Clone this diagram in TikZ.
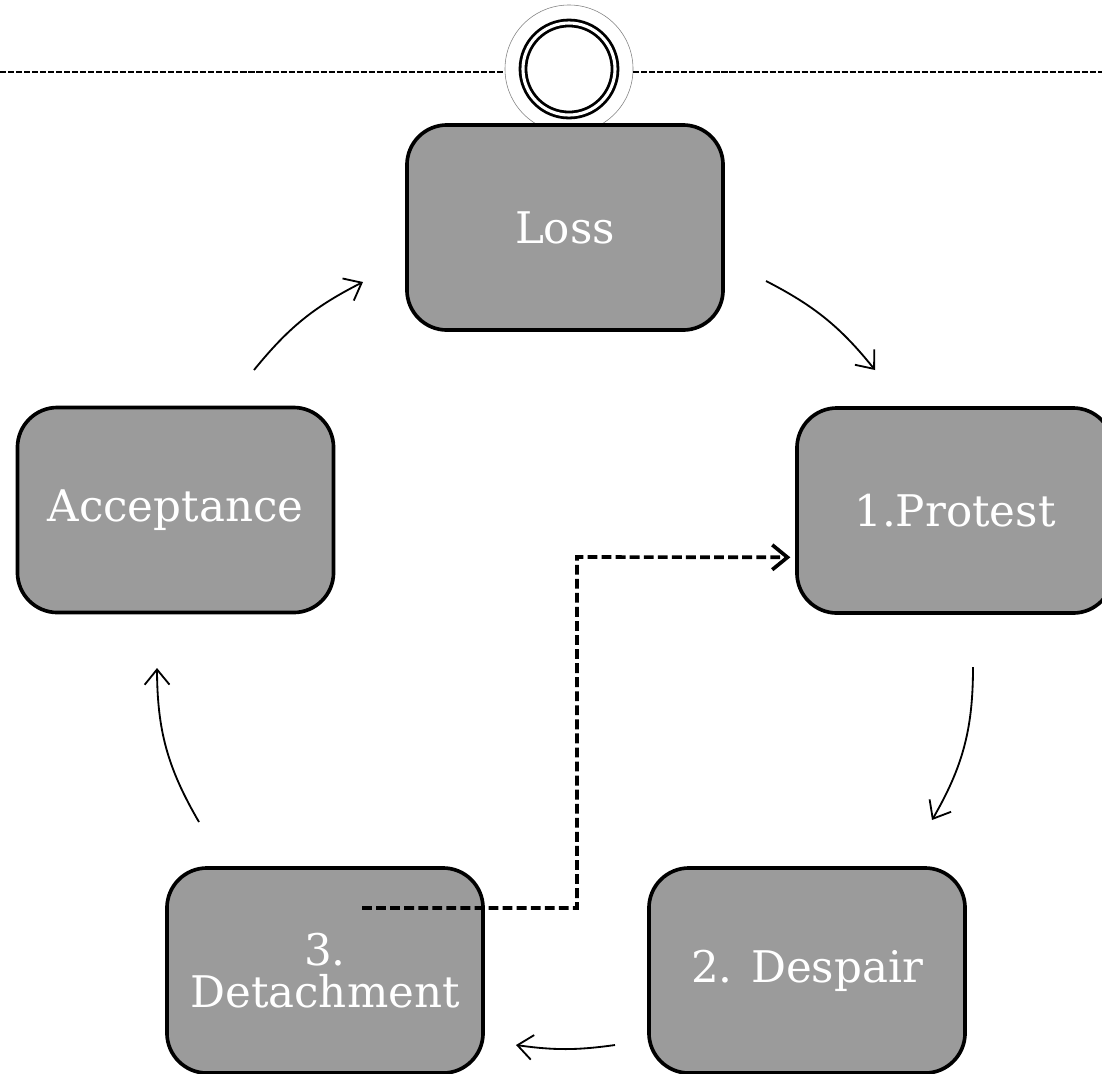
\documentclass[tikz,border=0pt]{standalone}
\usepackage{fontspec}
\setmainfont{DejaVu Serif}
\usetikzlibrary{arrows.meta}
\definecolor{boxgray}{HTML}{9B9B9B}
\begin{document}
\begin{tikzpicture}[x=0.025cm,y=-0.025cm,
stage/.style={rectangle,rounded corners=1cm,draw,line width=2.6pt,fill=boxgray,text=white,minimum width=7.9cm,minimum height=5.125cm,align=center,font=\fontsize{31}{30}\selectfont},
cyc/.style={line width=1.3pt,-{Straight Barb[length=0.38cm,width=0.62cm]}},
jump/.style={line width=2.6pt,dash pattern=on 7pt off 3pt,-{Straight Barb[length=0.38cm,width=0.62cm]}}]
\useasboundingbox (0,0) rectangle (1102,1073);
% start marker on the dashed line
\node [circle,draw=gray,line width=0.4pt,minimum size=3.2cm,inner sep=0pt] (halo) at (569,69) {};
\node [circle,draw,double,line width=2pt,double distance=2.2pt,minimum size=2.3cm,inner sep=0pt] (start) at (569,69) {};
\coordinate (lineW) at (0,72);
\coordinate (lineE) at (1102,72);
\draw [line width=1pt,dash pattern=on 4.3pt off 1.4pt] (lineW) -- (halo.west |- lineW);
\draw [line width=1pt,dash pattern=on 4.3pt off 1.4pt] (halo.east |- lineE) -- (lineE);
% stages
\node [stage] (loss) at (565,227.5) {Loss};
\node [stage] (prot) at (955,510.5) {1.Protest};
\node [stage] (desp) at (807,970.5) {2. Despair};
\node [stage] (detc) at (325,970.5) {3.\\Detachment};
\node [stage] (acpt) at (175.5,510) {Acceptance};
% cycle arrows
\coordinate (a1) at (766,281); \coordinate (b1) at (875,370);
\coordinate (a2) at (973,667); \coordinate (b2) at (932,820);
\coordinate (a3) at (615,1045); \coordinate (b3) at (516,1045);
\coordinate (a4) at (199,822); \coordinate (b4) at (157,668);
\coordinate (a5) at (254,370); \coordinate (b5) at (363,282);
\draw [cyc] (a1) to[bend left=12] (b1);
\draw [cyc] (a2) to[bend left=15] (b2);
\draw [cyc] (a3) to[bend left=8] (b3);
\draw [cyc] (a4) to[bend left=15] (b4);
\draw [cyc] (a5) to[bend left=12] (b5);
% return jump
\coordinate (dtail) at (362,908);
\coordinate (dmid) at (577,557);
\draw [jump] (dtail) -| (dmid) -- ([xshift=-0.12cm,yshift=-1.17cm]prot.west);
\end{tikzpicture}
\end{document}
